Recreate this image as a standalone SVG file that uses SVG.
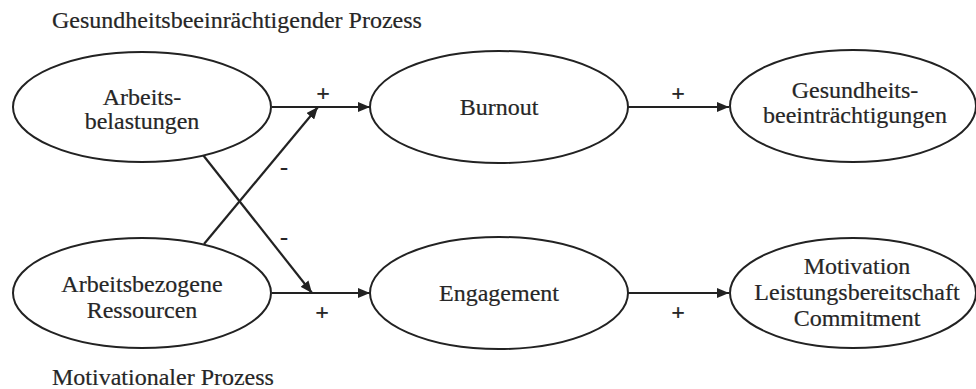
<svg xmlns="http://www.w3.org/2000/svg" width="976" height="389" viewBox="0 0 976 389">
  <defs>
    <marker id="arrow" viewBox="0 0 12 10" refX="12" refY="5" markerWidth="12" markerHeight="10" markerUnits="userSpaceOnUse" orient="auto">
      <path d="M0,0 L12,5 L0,10 Z" fill="#222"/>
    </marker>
    <style>
      .node ellipse { fill: #fff; stroke: #222; stroke-width: 2; }
      text { font-family: "Liberation Serif", "Times New Roman", serif; font-size: 24px; fill: #262626; stroke: #262626; stroke-width: 0.2; }
      .label { text-anchor: middle; }
      .conn line { stroke: #222; stroke-width: 2.2; fill: none; }
      .sign { text-anchor: middle; font-size: 24px; font-weight: bold; }
    </style>
  </defs>
  <rect width="976" height="389" fill="#fff"/>

  <!-- process headings -->
  <text x="52" y="28">Gesundheitsbeeinrächtigender Prozess</text>
  <text x="52" y="385">Motivationaler Prozess</text>

  <!-- connectors -->
  <g id="connectors" class="conn">
    <line x1="272" y1="107" x2="370" y2="107" marker-end="url(#arrow)"/>
    <line x1="628" y1="107" x2="729" y2="107" marker-end="url(#arrow)"/>
    <line x1="272" y1="293" x2="370" y2="293" marker-end="url(#arrow)"/>
    <line x1="628" y1="293" x2="729" y2="293" marker-end="url(#arrow)"/>
    <line x1="204" y1="244" x2="318" y2="107" marker-end="url(#arrow)"/>
    <line x1="203" y1="155" x2="312" y2="293" marker-end="url(#arrow)"/>
    <text class="sign" x="323" y="101">+</text>
    <text class="sign" x="678" y="101">+</text>
    <text class="sign" x="322" y="320">+</text>
    <text class="sign" x="678" y="320">+</text>
    <text class="sign" x="284" y="175">-</text>
    <text class="sign" x="284" y="245">-</text>
  </g>

  <g id="arbeitsbelastungen" class="node">
    <ellipse cx="142" cy="107" rx="129" ry="55"/>
    <text class="label" x="142" y="105">Arbeits-</text>
    <text class="label" x="142" y="129">belastungen</text>
  </g>

  <g id="burnout" class="node">
    <ellipse cx="499" cy="107" rx="129" ry="56"/>
    <text class="label" x="499" y="115">Burnout</text>
  </g>

  <g id="gesundheitsbeeintraechtigungen" class="node">
    <ellipse cx="853" cy="106" rx="123" ry="56"/>
    <text class="label" x="855" y="98">Gesundheits-</text>
    <text class="label" x="855" y="123">beeinträchtigungen</text>
  </g>

  <g id="ressourcen" class="node">
    <ellipse cx="142" cy="293" rx="129" ry="55"/>
    <text class="label" x="142" y="292">Arbeitsbezogene</text>
    <text class="label" x="142" y="318">Ressourcen</text>
  </g>

  <g id="engagement" class="node">
    <ellipse cx="499" cy="293" rx="129" ry="56"/>
    <text class="label" x="499" y="301">Engagement</text>
  </g>

  <g id="motivation" class="node">
    <ellipse cx="853" cy="293" rx="123" ry="55"/>
    <text class="label" x="857" y="274">Motivation</text>
    <text class="label" x="857" y="300">Leistungsbereitschaft</text>
    <text class="label" x="857" y="326">Commitment</text>
  </g>
</svg>
